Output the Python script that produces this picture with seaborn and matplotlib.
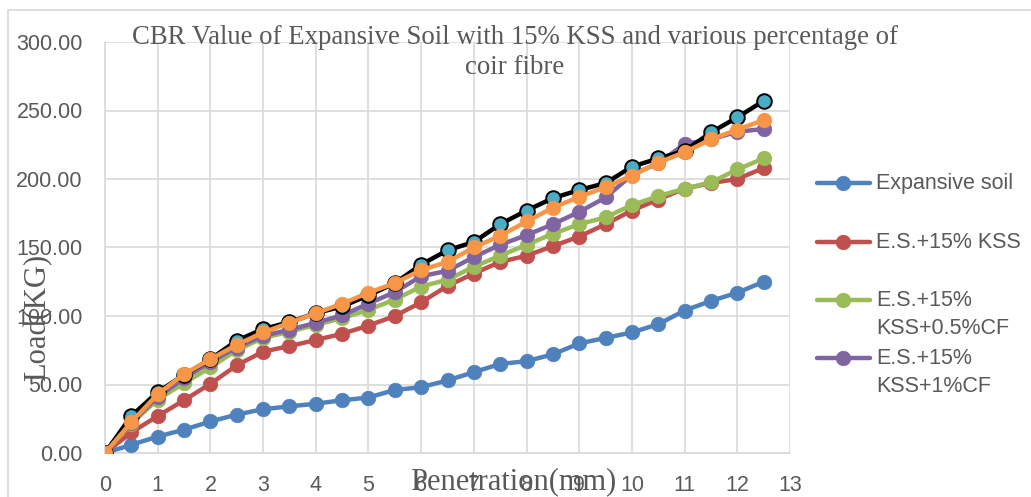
import numpy as np
import pandas as pd
import matplotlib
matplotlib.use("Agg")
import matplotlib.pyplot as plt
from matplotlib.lines import Line2D
from matplotlib.patches import Rectangle
import seaborn as sns

# ---------------- data ----------------
penetration = [0, 0.5, 1, 1.5, 2, 2.5, 3, 3.5, 4, 4.5, 5, 5.5, 6, 6.5,
               7, 7.5, 8, 8.5, 9, 9.5, 10, 10.5, 11, 11.5, 12, 12.5]

expansive_soil = [0, 6, 12, 17, 23, 28, 32, 34, 36, 38.5, 40.5, 46, 48, 53,
                  59, 65, 67, 72, 80, 84, 88, 94, 104, 111, 117, 125]
es_15_kss = [0, 15, 27, 38.5, 50.5, 64, 74, 78, 82.5, 87, 93, 100, 110, 122,
             131, 139.5, 144, 151, 158, 167, 177, 185, 193, 197, 200, 208]
es_15_kss_05cf = [0, 21.5, 39, 51, 62.5, 75, 84, 88.5, 93.5, 98.5, 104.5, 112, 121.5, 126.5,
                  136, 144, 152, 160, 167, 172, 181, 187.5, 193, 197.5, 207, 215]
es_15_kss_1cf = [0, 22, 41, 54.5, 66.5, 77, 85.5, 90, 95, 100.5, 109, 117.5, 129, 133,
                 143, 152, 159, 167, 176, 186.5, 203, 211.5, 225.5, 229, 234.5, 236.5]
es_15_kss_15cf = [0, 27, 44.5, 57, 68.5, 82, 90.5, 95.5, 102, 107, 115, 124, 137.5, 148,
                  154, 167, 177, 186, 192, 197, 209, 215, 220.5, 234, 245, 257]
es_15_kss_2cf = [0, 22.5, 43, 57.5, 68.5, 79, 88, 95, 102, 109, 117, 124, 133.5, 139.5,
                 150, 158.5, 169, 179, 187, 194, 202.5, 212, 219.5, 229, 236, 243]

series_names = ["Expansive soil", "E.S.+15% KSS", "E.S.+15% KSS+0.5%CF",
                "E.S.+15% KSS+1%CF", "E.S.+15% KSS+1.5%CF", "E.S.+15% KSS+2%CF"]
legend_labels = [["Expansive soil"], ["E.S.+15% KSS"], ["E.S.+15%", "KSS+0.5%CF"],
                 ["E.S.+15%", "KSS+1%CF"]]
series_values = [expansive_soil, es_15_kss, es_15_kss_05cf, es_15_kss_1cf,
                 es_15_kss_15cf, es_15_kss_2cf]

x_ticks = list(range(0, 14))
y_ticks = [0, 50, 100, 150, 200, 250, 300]

title = "CBR Value of Expansive Soil with 15% KSS and various percentage of\ncoir fibre"
x_label = "Penetration(mm)"
y_label = "Load(KG)"

rows = []
for name, vals in zip(series_names, series_values):
    for p, v in zip(penetration, vals):
        rows.append({"Penetration": p, "Load": v, "Series": name})
df = pd.DataFrame(rows)

# ---------------- styles ----------------
line_colors = ["#4F81BD", "#C0504D", "#9BBB59", "#8064A2", "#000000", "#F79646"]
face_colors = ["#4F81BD", "#C0504D", "#9BBB59", "#8064A2", "#4BACC6", "#F79646"]
edge_colors = ["#4F81BD", "#C0504D", "#9BBB59", "#8064A2", "#000000", "#F79646"]

sns.set_style("white")
plt.rcParams["font.family"] = ["Liberation Sans", "DejaVu Sans"]

W, H = 1031, 497
fig = plt.figure(figsize=(W / 100, H / 100), dpi=100)
ax = fig.add_axes([105 / W, 1 - 453 / H, (790 - 105) / W, (453 - 42) / H])

grid_c = "#D9D9D9"
text_c = "#595959"
LW = 3.2
MS = 10.5

for i, name in enumerate(series_names):
    sub = df[df["Series"] == name]
    sns.lineplot(data=sub, x="Penetration", y="Load", ax=ax,
                 color=line_colors[i], linewidth=LW,
                 marker="o", markersize=MS,
                 markerfacecolor=face_colors[i],
                 markeredgecolor=edge_colors[i],
                 markeredgewidth=1.4 if i == 4 else 0.5,
                 legend=False, zorder=3 + i)

ax.set_xlim(0, 13)
ax.set_ylim(0, 300)
ax.set_xticks(x_ticks)
ax.set_yticks(y_ticks)
ax.set_xticklabels([str(t) for t in x_ticks])
ax.set_yticklabels([f"{t:.2f}" for t in y_ticks])
ax.tick_params(axis="both", length=0, labelsize=15.5, labelcolor=text_c, pad=16)
ax.grid(True, color=grid_c, linewidth=1.2)
ax.set_axisbelow(True)
for s in ["top", "right"]:
    ax.spines[s].set_visible(False)
for s in ["left", "bottom"]:
    ax.spines[s].set_color(grid_c)
    ax.spines[s].set_linewidth(1.2)
ax.set_xlabel("")
ax.set_ylabel("")

# axis titles (overlapping tick labels like the reference)
fig.text(513 / W, 1 - 482 / H, x_label, ha="center", va="center",
         fontsize=22, color=text_c, family="Liberation Serif")
fig.text(38 / W, 1 - 317 / H, y_label, ha="center", va="center", rotation=90,
         fontsize=22, color=text_c, family="Liberation Serif")

# chart title
t_lines = title.split("\n")
fig.text(515 / W, 1 - 38 / H, t_lines[0], ha="center", va="center",
         fontsize=19.3, color=text_c, family="Liberation Serif")
fig.text(515 / W, 1 - 68 / H, t_lines[1], ha="center", va="center",
         fontsize=19.3, color=text_c, family="Liberation Serif")

# legend (only the visible first four entries)
legend_y = [183, 242, 300, 358]
for i, (ly, labs) in enumerate(zip(legend_y, legend_labels)):
    yy = 1 - ly / H
    fig.add_artist(Line2D([817 / W, 870 / W], [yy, yy], color=line_colors[i],
                          linewidth=LW, transform=fig.transFigure))
    fig.add_artist(Line2D([843 / W], [yy], marker="o", markersize=MS,
                          color=face_colors[i], markeredgecolor=edge_colors[i],
                          markeredgewidth=0.5, transform=fig.transFigure))
    for k, lab in enumerate(labs):
        fig.text(876 / W, 1 - (ly + 29 * k) / H, lab, ha="left", va="center",
                 fontsize=15.5, color=text_c)

# outer chart border
fig.add_artist(Rectangle((8 / W, -0.1), 1.2, 1 - 10 / H + 0.1, fill=False,
                         edgecolor=grid_c, linewidth=1.2, transform=fig.transFigure))

fig.savefig("out.png", dpi=100)
